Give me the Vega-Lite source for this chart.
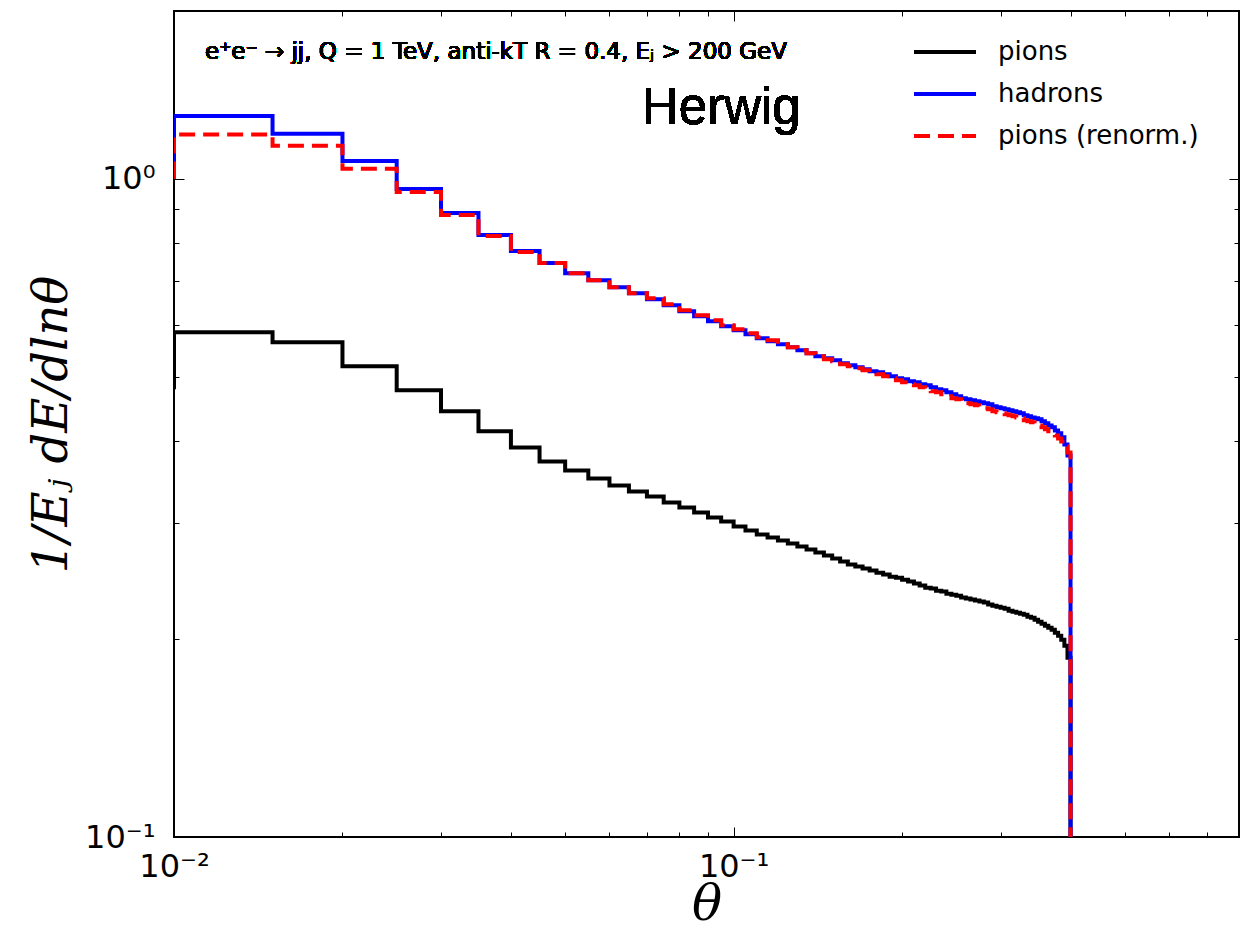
{
  "$schema": "https://vega.github.io/schema/vega-lite/v6.json",
  "width": 1065,
  "height": 826,
  "autosize": "none",
  "padding": {"left": 174, "top": 11, "right": 19, "bottom": 98},
  "background": "white",
  "config": {
    "view": {"stroke": "black", "strokeWidth": 2},
    "font": "DejaVu Sans",
    "axis": {"labelColor": "black", "tickColor": "black", "tickWidth": 1, "grid": false, "domain": false, "labelFlush": false, "labelOverlap": false, "titleColor": "black"},
    "legend": {"padding": 0}
  },
  "data": {"values": [
    {"series": "pions", "theta": 0.005, "value": 0.4824},
    {"series": "pions", "theta": 0.01, "value": 0.585},
    {"series": "pions", "theta": 0.015, "value": 0.5648},
    {"series": "pions", "theta": 0.02, "value": 0.5192},
    {"series": "pions", "theta": 0.025, "value": 0.4774},
    {"series": "pions", "theta": 0.03, "value": 0.4435},
    {"series": "pions", "theta": 0.035, "value": 0.4135},
    {"series": "pions", "theta": 0.04, "value": 0.3909},
    {"series": "pions", "theta": 0.045, "value": 0.3722},
    {"series": "pions", "theta": 0.05, "value": 0.3606},
    {"series": "pions", "theta": 0.055, "value": 0.3507},
    {"series": "pions", "theta": 0.06, "value": 0.3422},
    {"series": "pions", "theta": 0.065, "value": 0.335},
    {"series": "pions", "theta": 0.07, "value": 0.3292},
    {"series": "pions", "theta": 0.075, "value": 0.3224},
    {"series": "pions", "theta": 0.08, "value": 0.3168},
    {"series": "pions", "theta": 0.085, "value": 0.3113},
    {"series": "pions", "theta": 0.09, "value": 0.3059},
    {"series": "pions", "theta": 0.095, "value": 0.3016},
    {"series": "pions", "theta": 0.1, "value": 0.2964},
    {"series": "pions", "theta": 0.105, "value": 0.2922},
    {"series": "pions", "theta": 0.11, "value": 0.2882},
    {"series": "pions", "theta": 0.115, "value": 0.2852},
    {"series": "pions", "theta": 0.12, "value": 0.2822},
    {"series": "pions", "theta": 0.125, "value": 0.2792},
    {"series": "pions", "theta": 0.13, "value": 0.2763},
    {"series": "pions", "theta": 0.135, "value": 0.2734},
    {"series": "pions", "theta": 0.14, "value": 0.2706},
    {"series": "pions", "theta": 0.145, "value": 0.2677},
    {"series": "pions", "theta": 0.15, "value": 0.2649},
    {"series": "pions", "theta": 0.155, "value": 0.2622},
    {"series": "pions", "theta": 0.16, "value": 0.2594},
    {"series": "pions", "theta": 0.165, "value": 0.2576},
    {"series": "pions", "theta": 0.17, "value": 0.2558},
    {"series": "pions", "theta": 0.175, "value": 0.254},
    {"series": "pions", "theta": 0.18, "value": 0.2522},
    {"series": "pions", "theta": 0.185, "value": 0.2505},
    {"series": "pions", "theta": 0.19, "value": 0.2487},
    {"series": "pions", "theta": 0.195, "value": 0.2478},
    {"series": "pions", "theta": 0.2, "value": 0.2461},
    {"series": "pions", "theta": 0.205, "value": 0.2444},
    {"series": "pions", "theta": 0.21, "value": 0.2427},
    {"series": "pions", "theta": 0.215, "value": 0.241},
    {"series": "pions", "theta": 0.22, "value": 0.2393},
    {"series": "pions", "theta": 0.225, "value": 0.2385},
    {"series": "pions", "theta": 0.23, "value": 0.2368},
    {"series": "pions", "theta": 0.235, "value": 0.236},
    {"series": "pions", "theta": 0.24, "value": 0.2343},
    {"series": "pions", "theta": 0.245, "value": 0.2335},
    {"series": "pions", "theta": 0.25, "value": 0.2327},
    {"series": "pions", "theta": 0.255, "value": 0.2311},
    {"series": "pions", "theta": 0.26, "value": 0.2303},
    {"series": "pions", "theta": 0.265, "value": 0.2295},
    {"series": "pions", "theta": 0.27, "value": 0.2287},
    {"series": "pions", "theta": 0.275, "value": 0.2279},
    {"series": "pions", "theta": 0.28, "value": 0.2271},
    {"series": "pions", "theta": 0.285, "value": 0.2255},
    {"series": "pions", "theta": 0.29, "value": 0.2247},
    {"series": "pions", "theta": 0.295, "value": 0.2239},
    {"series": "pions", "theta": 0.3, "value": 0.2231},
    {"series": "pions", "theta": 0.305, "value": 0.2223},
    {"series": "pions", "theta": 0.31, "value": 0.2208},
    {"series": "pions", "theta": 0.315, "value": 0.22},
    {"series": "pions", "theta": 0.32, "value": 0.2192},
    {"series": "pions", "theta": 0.325, "value": 0.2185},
    {"series": "pions", "theta": 0.33, "value": 0.2177},
    {"series": "pions", "theta": 0.335, "value": 0.2162},
    {"series": "pions", "theta": 0.34, "value": 0.2154},
    {"series": "pions", "theta": 0.345, "value": 0.2139},
    {"series": "pions", "theta": 0.35, "value": 0.2124},
    {"series": "pions", "theta": 0.355, "value": 0.2109},
    {"series": "pions", "theta": 0.36, "value": 0.2095},
    {"series": "pions", "theta": 0.365, "value": 0.208},
    {"series": "pions", "theta": 0.37, "value": 0.2066},
    {"series": "pions", "theta": 0.375, "value": 0.2044},
    {"series": "pions", "theta": 0.38, "value": 0.2023},
    {"series": "pions", "theta": 0.385, "value": 0.1995},
    {"series": "pions", "theta": 0.39, "value": 0.1953},
    {"series": "pions", "theta": 0.395, "value": 0.1873},
    {"series": "pions", "theta": 0.4, "value": 0.001},
    {"series": "hadrons", "theta": 0.005, "value": 1.061},
    {"series": "hadrons", "theta": 0.01, "value": 1.247},
    {"series": "hadrons", "theta": 0.015, "value": 1.171},
    {"series": "hadrons", "theta": 0.02, "value": 1.065},
    {"series": "hadrons", "theta": 0.025, "value": 0.9656},
    {"series": "hadrons", "theta": 0.03, "value": 0.8877},
    {"series": "hadrons", "theta": 0.035, "value": 0.8218},
    {"series": "hadrons", "theta": 0.04, "value": 0.777},
    {"series": "hadrons", "theta": 0.045, "value": 0.745},
    {"series": "hadrons", "theta": 0.05, "value": 0.7193},
    {"series": "hadrons", "theta": 0.055, "value": 0.7019},
    {"series": "hadrons", "theta": 0.06, "value": 0.6849},
    {"series": "hadrons", "theta": 0.065, "value": 0.6706},
    {"series": "hadrons", "theta": 0.07, "value": 0.6567},
    {"series": "hadrons", "theta": 0.075, "value": 0.643},
    {"series": "hadrons", "theta": 0.08, "value": 0.6296},
    {"series": "hadrons", "theta": 0.085, "value": 0.6187},
    {"series": "hadrons", "theta": 0.09, "value": 0.608},
    {"series": "hadrons", "theta": 0.095, "value": 0.5974},
    {"series": "hadrons", "theta": 0.1, "value": 0.5891},
    {"series": "hadrons", "theta": 0.105, "value": 0.5809},
    {"series": "hadrons", "theta": 0.11, "value": 0.5728},
    {"series": "hadrons", "theta": 0.115, "value": 0.5668},
    {"series": "hadrons", "theta": 0.12, "value": 0.5609},
    {"series": "hadrons", "theta": 0.125, "value": 0.555},
    {"series": "hadrons", "theta": 0.13, "value": 0.5492},
    {"series": "hadrons", "theta": 0.135, "value": 0.5434},
    {"series": "hadrons", "theta": 0.14, "value": 0.5378},
    {"series": "hadrons", "theta": 0.145, "value": 0.534},
    {"series": "hadrons", "theta": 0.15, "value": 0.5303},
    {"series": "hadrons", "theta": 0.155, "value": 0.5247},
    {"series": "hadrons", "theta": 0.16, "value": 0.5211},
    {"series": "hadrons", "theta": 0.165, "value": 0.5174},
    {"series": "hadrons", "theta": 0.17, "value": 0.5138},
    {"series": "hadrons", "theta": 0.175, "value": 0.5102},
    {"series": "hadrons", "theta": 0.18, "value": 0.5084},
    {"series": "hadrons", "theta": 0.185, "value": 0.5049},
    {"series": "hadrons", "theta": 0.19, "value": 0.5014},
    {"series": "hadrons", "theta": 0.195, "value": 0.4979},
    {"series": "hadrons", "theta": 0.2, "value": 0.4961},
    {"series": "hadrons", "theta": 0.205, "value": 0.4927},
    {"series": "hadrons", "theta": 0.21, "value": 0.4909},
    {"series": "hadrons", "theta": 0.215, "value": 0.4875},
    {"series": "hadrons", "theta": 0.22, "value": 0.4858},
    {"series": "hadrons", "theta": 0.225, "value": 0.4824},
    {"series": "hadrons", "theta": 0.23, "value": 0.479},
    {"series": "hadrons", "theta": 0.235, "value": 0.4774},
    {"series": "hadrons", "theta": 0.24, "value": 0.474},
    {"series": "hadrons", "theta": 0.245, "value": 0.4707},
    {"series": "hadrons", "theta": 0.25, "value": 0.4674},
    {"series": "hadrons", "theta": 0.255, "value": 0.4642},
    {"series": "hadrons", "theta": 0.26, "value": 0.4625},
    {"series": "hadrons", "theta": 0.265, "value": 0.4609},
    {"series": "hadrons", "theta": 0.27, "value": 0.4593},
    {"series": "hadrons", "theta": 0.275, "value": 0.4577},
    {"series": "hadrons", "theta": 0.28, "value": 0.4561},
    {"series": "hadrons", "theta": 0.285, "value": 0.4545},
    {"series": "hadrons", "theta": 0.29, "value": 0.4513},
    {"series": "hadrons", "theta": 0.295, "value": 0.4497},
    {"series": "hadrons", "theta": 0.3, "value": 0.4482},
    {"series": "hadrons", "theta": 0.305, "value": 0.4466},
    {"series": "hadrons", "theta": 0.31, "value": 0.445},
    {"series": "hadrons", "theta": 0.315, "value": 0.4435},
    {"series": "hadrons", "theta": 0.32, "value": 0.4419},
    {"series": "hadrons", "theta": 0.325, "value": 0.4404},
    {"series": "hadrons", "theta": 0.33, "value": 0.4373},
    {"series": "hadrons", "theta": 0.335, "value": 0.4358},
    {"series": "hadrons", "theta": 0.34, "value": 0.4342},
    {"series": "hadrons", "theta": 0.345, "value": 0.4327},
    {"series": "hadrons", "theta": 0.35, "value": 0.4312},
    {"series": "hadrons", "theta": 0.355, "value": 0.4282},
    {"series": "hadrons", "theta": 0.36, "value": 0.4252},
    {"series": "hadrons", "theta": 0.365, "value": 0.4222},
    {"series": "hadrons", "theta": 0.37, "value": 0.4193},
    {"series": "hadrons", "theta": 0.375, "value": 0.4149},
    {"series": "hadrons", "theta": 0.38, "value": 0.4106},
    {"series": "hadrons", "theta": 0.385, "value": 0.4049},
    {"series": "hadrons", "theta": 0.39, "value": 0.395},
    {"series": "hadrons", "theta": 0.395, "value": 0.3801},
    {"series": "hadrons", "theta": 0.4, "value": 0.001},
    {"series": "pions (renorm.)", "theta": 0.005, "value": 1.007},
    {"series": "pions (renorm.)", "theta": 0.01, "value": 1.168},
    {"series": "pions (renorm.)", "theta": 0.015, "value": 1.123},
    {"series": "pions (renorm.)", "theta": 0.02, "value": 1.036},
    {"series": "pions (renorm.)", "theta": 0.025, "value": 0.9555},
    {"series": "pions (renorm.)", "theta": 0.03, "value": 0.8815},
    {"series": "pions (renorm.)", "theta": 0.035, "value": 0.8189},
    {"series": "pions (renorm.)", "theta": 0.04, "value": 0.7743},
    {"series": "pions (renorm.)", "theta": 0.045, "value": 0.745},
    {"series": "pions (renorm.)", "theta": 0.05, "value": 0.7193},
    {"series": "pions (renorm.)", "theta": 0.055, "value": 0.7019},
    {"series": "pions (renorm.)", "theta": 0.06, "value": 0.6849},
    {"series": "pions (renorm.)", "theta": 0.065, "value": 0.6706},
    {"series": "pions (renorm.)", "theta": 0.07, "value": 0.659},
    {"series": "pions (renorm.)", "theta": 0.075, "value": 0.6453},
    {"series": "pions (renorm.)", "theta": 0.08, "value": 0.6318},
    {"series": "pions (renorm.)", "theta": 0.085, "value": 0.6209},
    {"series": "pions (renorm.)", "theta": 0.09, "value": 0.6101},
    {"series": "pions (renorm.)", "theta": 0.095, "value": 0.5995},
    {"series": "pions (renorm.)", "theta": 0.1, "value": 0.5911},
    {"series": "pions (renorm.)", "theta": 0.105, "value": 0.5829},
    {"series": "pions (renorm.)", "theta": 0.11, "value": 0.5748},
    {"series": "pions (renorm.)", "theta": 0.115, "value": 0.5688},
    {"series": "pions (renorm.)", "theta": 0.12, "value": 0.5609},
    {"series": "pions (renorm.)", "theta": 0.125, "value": 0.555},
    {"series": "pions (renorm.)", "theta": 0.13, "value": 0.5492},
    {"series": "pions (renorm.)", "theta": 0.135, "value": 0.5434},
    {"series": "pions (renorm.)", "theta": 0.14, "value": 0.5378},
    {"series": "pions (renorm.)", "theta": 0.145, "value": 0.5321},
    {"series": "pions (renorm.)", "theta": 0.15, "value": 0.5284},
    {"series": "pions (renorm.)", "theta": 0.155, "value": 0.5229},
    {"series": "pions (renorm.)", "theta": 0.16, "value": 0.5192},
    {"series": "pions (renorm.)", "theta": 0.165, "value": 0.5156},
    {"series": "pions (renorm.)", "theta": 0.17, "value": 0.512},
    {"series": "pions (renorm.)", "theta": 0.175, "value": 0.5067},
    {"series": "pions (renorm.)", "theta": 0.18, "value": 0.5049},
    {"series": "pions (renorm.)", "theta": 0.185, "value": 0.5014},
    {"series": "pions (renorm.)", "theta": 0.19, "value": 0.4979},
    {"series": "pions (renorm.)", "theta": 0.195, "value": 0.4944},
    {"series": "pions (renorm.)", "theta": 0.2, "value": 0.4909},
    {"series": "pions (renorm.)", "theta": 0.205, "value": 0.4875},
    {"series": "pions (renorm.)", "theta": 0.21, "value": 0.4858},
    {"series": "pions (renorm.)", "theta": 0.215, "value": 0.4824},
    {"series": "pions (renorm.)", "theta": 0.22, "value": 0.479},
    {"series": "pions (renorm.)", "theta": 0.225, "value": 0.4757},
    {"series": "pions (renorm.)", "theta": 0.23, "value": 0.474},
    {"series": "pions (renorm.)", "theta": 0.235, "value": 0.4707},
    {"series": "pions (renorm.)", "theta": 0.24, "value": 0.4674},
    {"series": "pions (renorm.)", "theta": 0.245, "value": 0.4642},
    {"series": "pions (renorm.)", "theta": 0.25, "value": 0.4625},
    {"series": "pions (renorm.)", "theta": 0.255, "value": 0.4593},
    {"series": "pions (renorm.)", "theta": 0.26, "value": 0.4561},
    {"series": "pions (renorm.)", "theta": 0.265, "value": 0.4545},
    {"series": "pions (renorm.)", "theta": 0.27, "value": 0.4529},
    {"series": "pions (renorm.)", "theta": 0.275, "value": 0.4497},
    {"series": "pions (renorm.)", "theta": 0.28, "value": 0.4482},
    {"series": "pions (renorm.)", "theta": 0.285, "value": 0.4466},
    {"series": "pions (renorm.)", "theta": 0.29, "value": 0.4435},
    {"series": "pions (renorm.)", "theta": 0.295, "value": 0.4419},
    {"series": "pions (renorm.)", "theta": 0.3, "value": 0.4404},
    {"series": "pions (renorm.)", "theta": 0.305, "value": 0.4388},
    {"series": "pions (renorm.)", "theta": 0.31, "value": 0.4373},
    {"series": "pions (renorm.)", "theta": 0.315, "value": 0.4358},
    {"series": "pions (renorm.)", "theta": 0.32, "value": 0.4342},
    {"series": "pions (renorm.)", "theta": 0.325, "value": 0.4327},
    {"series": "pions (renorm.)", "theta": 0.33, "value": 0.4297},
    {"series": "pions (renorm.)", "theta": 0.335, "value": 0.4282},
    {"series": "pions (renorm.)", "theta": 0.34, "value": 0.4267},
    {"series": "pions (renorm.)", "theta": 0.345, "value": 0.4237},
    {"series": "pions (renorm.)", "theta": 0.35, "value": 0.4222},
    {"series": "pions (renorm.)", "theta": 0.355, "value": 0.4193},
    {"series": "pions (renorm.)", "theta": 0.36, "value": 0.4164},
    {"series": "pions (renorm.)", "theta": 0.365, "value": 0.4135},
    {"series": "pions (renorm.)", "theta": 0.37, "value": 0.4106},
    {"series": "pions (renorm.)", "theta": 0.375, "value": 0.4077},
    {"series": "pions (renorm.)", "theta": 0.38, "value": 0.4034},
    {"series": "pions (renorm.)", "theta": 0.385, "value": 0.3992},
    {"series": "pions (renorm.)", "theta": 0.39, "value": 0.3923},
    {"series": "pions (renorm.)", "theta": 0.395, "value": 0.3841},
    {"series": "pions (renorm.)", "theta": 0.4, "value": 0.001}
  ]},
  "layer": [
    {
      "mark": {"type": "line", "interpolate": "step-after", "clip": true, "strokeWidth": 4},
      "encoding": {
        "x": {
          "field": "theta", "type": "quantitative",
          "scale": {"type": "log", "domain": [0.01, 0.8], "nice": false},
          "axis": {
            "orient": "bottom",
            "offset": 14,
            "values": [0.01, 0.1],
            "labelExpr": "datum.value == 0.01 ? '10\u207b\u00b2' : '10\u207b\u00b9'",
            "ticks": false,
            "labelFont": "DejaVu Sans", "labelFontSize": 32, "labelPadding": 0,
            "title": "\u03b8", "titleFont": "DejaVu Serif", "titleFontStyle": "italic", "titleFontWeight": "normal", "titleFontSize": 50, "titlePadding": -3
          }
        },
        "y": {
          "field": "value", "type": "quantitative",
          "scale": {"type": "log", "domain": [0.1, 1.8], "nice": false},
          "axis": {
            "orient": "left",
            "offset": 19,
            "values": [0.1, 1],
            "labelExpr": "datum.value == 0.1 ? '10\u207b\u00b9' : '10\u2070'",
            "ticks": false,
            "labelFont": "DejaVu Sans", "labelFontSize": 32, "labelPadding": 0,
            "title": "1/E\u2c7c dE/dln\u03b8", "titleFont": "DejaVu Serif", "titleFontStyle": "italic", "titleFontWeight": "normal", "titleFontSize": 48, "titlePadding": 8
          }
        },
        "color": {
          "field": "series", "type": "nominal",
          "scale": {"domain": ["pions", "hadrons", "pions (renorm.)"], "range": ["#000000", "#0000ff", "#ff0000"]},
          "legend": {"orient": "none", "legendX": 738, "legendY": 20, "title": null, "symbolType": "stroke", "symbolSize": 3844, "symbolStrokeWidth": 4, "clipHeight": 42, "labelFont": "DejaVu Sans", "labelFontSize": 26, "labelColor": "black", "labelOffset": 20, "labelLimit": 0, "rowPadding": 0}
        },
        "strokeDash": {
          "field": "series", "type": "nominal",
          "scale": {"domain": ["pions", "hadrons", "pions (renorm.)"], "range": [[1, 0], [1, 0], [16, 8]]},
          "legend": {"orient": "none", "legendX": 738, "legendY": 20, "title": null, "symbolType": "stroke", "symbolSize": 3844, "symbolStrokeWidth": 4, "clipHeight": 42, "labelFont": "DejaVu Sans", "labelFontSize": 26, "labelColor": "black", "labelOffset": 20, "labelLimit": 0, "rowPadding": 0}
        }
      }
    },
    {
      "mark": {"type": "text", "align": "left", "baseline": "alphabetic", "font": "DejaVu Sans", "fontSize": 23, "color": "black"},
      "encoding": {
        "x": {
          "datum": 0.01136, "type": "quantitative",
          "axis": {
            "orient": "top", "labels": false, "title": null,
            "values": [0.01, 0.02, 0.03, 0.04, 0.05, 0.06, 0.07, 0.08, 0.09, 0.1, 0.2, 0.3, 0.4, 0.5, 0.6, 0.7, 0.8],
            "tickSize": {"condition": {"test": "datum.value == 0.01 || datum.value == 0.1", "value": -10}, "value": -5}
          }
        },
        "y": {
          "datum": 1.522, "type": "quantitative",
          "axis": {
            "orient": "right", "labels": false, "title": null,
            "values": [0.1, 0.2, 0.3, 0.4, 0.5, 0.6, 0.7, 0.8, 0.9, 1],
            "tickSize": {"condition": {"test": "datum.value == 0.1 || datum.value == 1", "value": -10}, "value": -5}
          }
        },
        "text": {"value": "e\u207ae\u207b \u2192 jj, Q = 1 TeV, anti-kT R = 0.4, E\u2c7c > 200 GeV"}
      }
    },
    {
      "mark": {"type": "text", "align": "right", "baseline": "alphabetic", "font": "Liberation Sans", "fontSize": 51, "color": "black"},
      "encoding": {
        "x": {
          "datum": 0.1318, "type": "quantitative",
          "axis": {
            "orient": "bottom", "labels": false, "title": null,
            "values": [0.01, 0.02, 0.03, 0.04, 0.05, 0.06, 0.07, 0.08, 0.09, 0.1, 0.2, 0.3, 0.4, 0.5, 0.6, 0.7, 0.8],
            "tickSize": {"condition": {"test": "datum.value == 0.01 || datum.value == 0.1", "value": -10}, "value": -5}
          }
        },
        "y": {
          "datum": 1.2127, "type": "quantitative",
          "axis": {
            "orient": "left", "labels": false, "title": null,
            "values": [0.1, 0.2, 0.3, 0.4, 0.5, 0.6, 0.7, 0.8, 0.9, 1],
            "tickSize": {"condition": {"test": "datum.value == 0.1 || datum.value == 1", "value": -10}, "value": -5}
          }
        },
        "text": {"value": "Herwig"}
      }
    }
  ],
  "resolve": {"axis": {"x": "independent", "y": "independent"}}
}
